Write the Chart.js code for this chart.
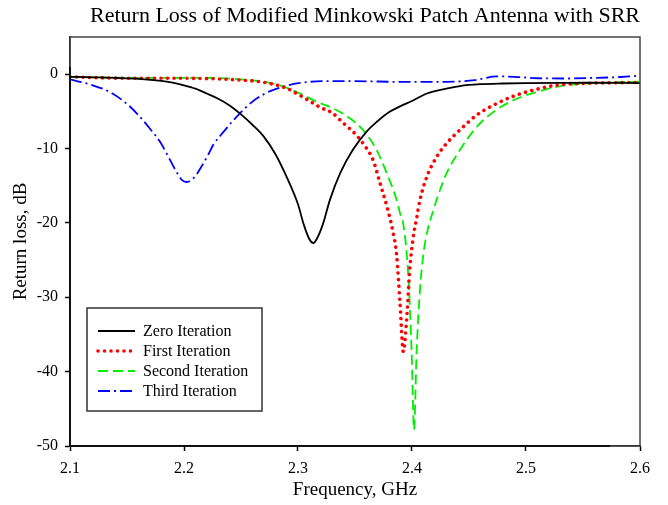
<!DOCTYPE html>
<html>
<head>
<meta charset="utf-8">
<script src="https://cdn.jsdelivr.net/npm/chart.js@4/dist/chart.umd.min.js"></script>
<style>
  html, body { margin: 0; padding: 0; background: #fff; }
  #wrap { width: 668px; height: 505px; }
</style>
</head>
<body>
<div id="wrap"><canvas id="c" width="668" height="505"></canvas></div>
<script>
const titleText = 'Return Loss of Modified Minkowski Patch Antenna with SRR';
const xTitle = 'Frequency, GHz';
const yTitle = 'Return loss, dB';
const seriesNames = ['Zero Iteration', 'First Iteration', 'Second Iteration', 'Third Iteration'];
const xTicks = [2.1, 2.2, 2.3, 2.4, 2.5, 2.6];
const yTicks = [-50, -40, -30, -20, -10, 0];

const zeroFreq = [2.10, 2.12, 2.14, 2.16, 2.18, 2.19, 2.20, 2.21, 2.22, 2.23, 2.24, 2.25, 2.26, 2.27, 2.28, 2.29, 2.30, 2.305, 2.31, 2.3135, 2.317, 2.322, 2.328, 2.337, 2.348, 2.36, 2.37, 2.38, 2.39, 2.40, 2.413, 2.43, 2.442, 2.46, 2.48, 2.50, 2.53, 2.56, 2.60];
const zeroLoss = [-0.35, -0.42, -0.5, -0.62, -0.9, -1.15, -1.5, -1.95, -2.6, -3.3, -4.2, -5.4, -6.8, -8.4, -10.7, -13.8, -17.5, -20.2, -22.2, -22.7, -22.0, -20.1, -16.9, -13.3, -10.2, -7.75, -6.3, -5.1, -4.3, -3.6, -2.6, -1.95, -1.6, -1.35, -1.25, -1.2, -1.16, -1.15, -1.2];

const firstFreq = [2.10, 2.13, 2.16, 2.19, 2.22, 2.25, 2.27, 2.29, 2.30, 2.31, 2.32, 2.33, 2.34, 2.35, 2.357, 2.366, 2.372, 2.378, 2.383, 2.3865, 2.3895, 2.3924, 2.3953, 2.398, 2.401, 2.404, 2.407, 2.413, 2.4217, 2.4304, 2.442, 2.4567, 2.4743, 2.4918, 2.5123, 2.527, 2.55, 2.58, 2.60];
const firstLoss = [-0.35, -0.5, -0.55, -0.55, -0.6, -0.8, -1.1, -1.9, -2.7, -3.6, -4.5, -5.2, -6.6, -8.0, -9.3, -11.6, -14.7, -17.8, -21.0, -24.3, -30.8, -37.3, -33.0, -26.3, -22.0, -19.4, -16.9, -13.8, -11.1, -9.3, -7.5, -5.5, -3.95, -2.8, -1.92, -1.48, -1.25, -1.15, -1.1];

const secondFreq = [2.10, 2.13, 2.16, 2.19, 2.22, 2.25, 2.27, 2.284, 2.3018, 2.3164, 2.331, 2.3456, 2.357, 2.369, 2.3778, 2.3865, 2.3895, 2.3924, 2.3968, 2.3997, 2.4018, 2.404, 2.407, 2.41, 2.4129, 2.4187, 2.4245, 2.4304, 2.442, 2.4567, 2.4713, 2.4889, 2.5094, 2.53, 2.56, 2.60];
const secondLoss = [-0.35, -0.45, -0.5, -0.5, -0.5, -0.7, -1.0, -1.5, -2.6, -3.7, -4.6, -5.95, -7.5, -10.2, -13.3, -16.9, -18.7, -20.2, -27.2, -37.5, -47.8, -37.5, -29.0, -24.2, -21.5, -18.3, -15.6, -13.3, -10.2, -7.1, -5.1, -3.5, -2.4, -1.6, -1.2, -1.0];

const thirdFreq = [2.10, 2.12, 2.135, 2.15, 2.16, 2.17, 2.179, 2.188, 2.194, 2.198, 2.2023, 2.206, 2.21, 2.215, 2.2213, 2.2257, 2.235, 2.2433, 2.252, 2.2608, 2.27, 2.2784, 2.2989, 2.325, 2.35, 2.39, 2.43, 2.455, 2.4743, 2.49, 2.51, 2.5357, 2.56, 2.58, 2.594, 2.60];
const thirdLoss = [-0.7, -1.5, -2.4, -4.0, -5.5, -7.3, -9.1, -11.6, -13.3, -14.2, -14.5, -14.3, -13.7, -12.5, -10.8, -9.5, -7.7, -6.2, -4.8, -3.6, -2.7, -2.1, -1.25, -0.94, -0.94, -1.03, -1.03, -0.8, -0.3, -0.35, -0.55, -0.58, -0.5, -0.4, -0.27, -0.13];

const toPts = (xs, ys) => xs.map((x, i) => ({ x: x, y: ys[i] }));
const serif = "'Liberation Serif', 'DejaVu Serif', serif";

const frameLegend = {
  id: 'frameLegend',
  afterDraw(chart) {
    const ctx = chart.ctx;
    const a = chart.chartArea;
    ctx.save();
    ctx.strokeStyle = '#444';
    ctx.lineWidth = 1.5;
    ctx.strokeRect(a.left, a.top, a.right - a.left, a.bottom - a.top);
    ctx.strokeStyle = '#000';
    ctx.beginPath();
    ctx.moveTo(a.left, a.top + 30); ctx.lineTo(a.left, a.bottom); ctx.lineTo(a.right - 30, a.bottom);
    ctx.stroke();
    const bx = a.left + 17, by = a.top + 271, bw = 175, bh = 103;
    ctx.fillStyle = '#fff';
    ctx.fillRect(bx, by, bw, bh);
    ctx.strokeStyle = '#333';
    ctx.lineWidth = 1.5;
    ctx.strokeRect(bx, by, bw, bh);
    ctx.font = '16px ' + serif;
    ctx.textBaseline = 'middle';
    ctx.textAlign = 'left';
    chart.data.datasets.forEach((ds, i) => {
      const y = by + 23 + i * 20;
      ctx.save();
      ctx.strokeStyle = ds.borderColor;
      ctx.lineWidth = ds.borderWidth;
      ctx.lineCap = ds.borderCapStyle || 'butt';
      ctx.setLineDash(ds.borderDash || []);
      ctx.beginPath();
      ctx.moveTo(bx + 11, y);
      ctx.lineTo(bx + 48, y);
      ctx.stroke();
      ctx.restore();
      ctx.fillStyle = '#000';
      ctx.fillText(ds.label, bx + 56, y + 1);
    });
    ctx.restore();
  }
};

new Chart(document.getElementById('c'), {
  type: 'line',
  data: {
    datasets: [
      { label: seriesNames[0], data: toPts(zeroFreq, zeroLoss), borderColor: '#000000', borderWidth: 1.8, pointRadius: 0, cubicInterpolationMode: 'monotone', fill: false },
      { label: seriesNames[1], data: toPts(firstFreq, firstLoss), borderColor: '#ff0000', borderWidth: 3.6, borderDash: [0.001, 6.5], borderCapStyle: 'round', pointRadius: 0, cubicInterpolationMode: 'monotone', fill: false },
      { label: seriesNames[2], data: toPts(secondFreq, secondLoss), borderColor: '#00ee00', borderWidth: 1.8, borderDash: [10, 5], pointRadius: 0, cubicInterpolationMode: 'monotone', fill: false },
      { label: seriesNames[3], data: toPts(thirdFreq, thirdLoss), borderColor: '#0000ff', borderWidth: 1.8, borderDash: [12, 4, 2, 4], pointRadius: 0, cubicInterpolationMode: 'monotone', fill: false }
    ]
  },
  options: {
    responsive: false,
    animation: false,
    events: [],
    layout: { padding: { left: 0, right: 28, top: 0, bottom: 0 } },
    plugins: {
      legend: { display: false },
      tooltip: { enabled: false },
      title: {
        display: true, text: titleText, align: 'end', color: '#000',
        font: { family: serif, size: 22, weight: 'normal' },
        padding: { top: 3, bottom: 7.6 }
      }
    },
    scales: {
      x: {
        type: 'linear', min: 2.1, max: 2.6,
        afterBuildTicks: s => { s.ticks = xTicks.map(v => ({ value: v })); },
        afterFit: s => { s.height = 59; },
        ticks: { color: '#000', font: { family: serif, size: 16 }, padding: 8, callback: v => v.toFixed(1), maxRotation: 0, autoSkip: false },
        grid: { display: true, drawOnChartArea: false, drawTicks: true, tickLength: 5, tickColor: '#000', tickWidth: 1.5 },
        border: { display: true, color: '#000', width: 1.5 },
        title: { display: true, text: xTitle, color: '#000', font: { family: serif, size: 19 }, padding: { top: 0, bottom: 4 } }
      },
      y: {
        type: 'linear', min: -50, max: 5,
        afterBuildTicks: s => { s.ticks = yTicks.map(v => ({ value: v })); },
        afterFit: s => { s.width = 70; },
        ticks: { color: '#000', font: { family: serif, size: 16 }, padding: 7 },
        grid: { display: true, drawOnChartArea: false, drawTicks: true, tickLength: 5, tickColor: '#000', tickWidth: 1.5 },
        border: { display: true, color: '#000', width: 1.5 },
        title: { display: true, text: yTitle, color: '#000', font: { family: serif, size: 19 }, padding: { top: 10, bottom: 0 } }
      }
    }
  },
  plugins: [frameLegend]
});
</script>
</body>
</html>
